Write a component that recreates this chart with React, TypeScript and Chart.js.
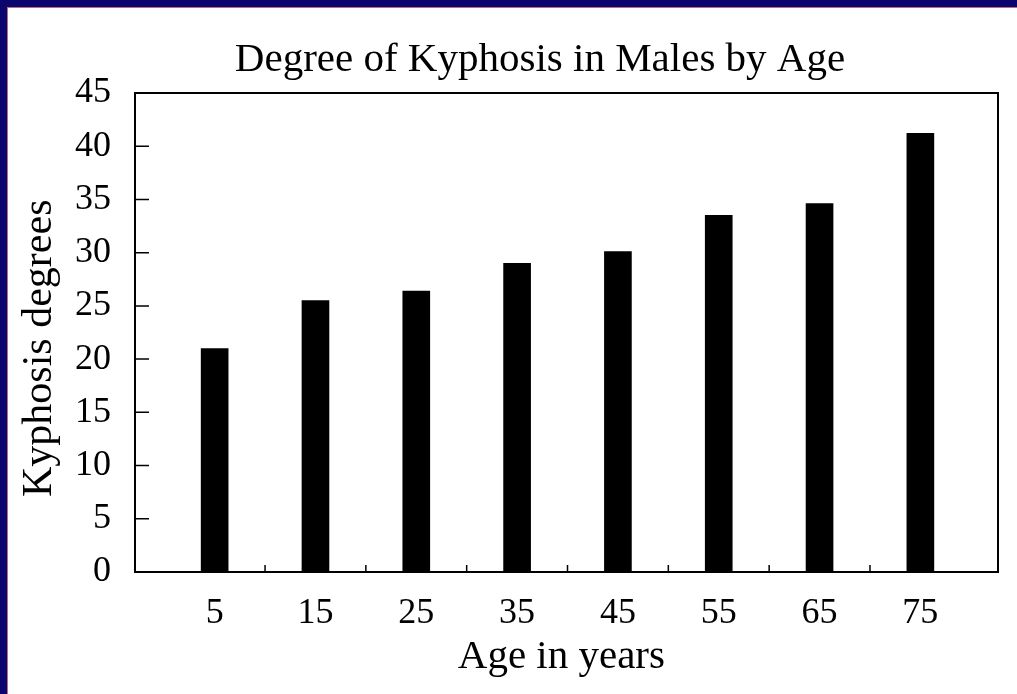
import React, { useEffect, useRef } from "react";
import { Chart, registerables } from "chart.js";

Chart.register(...registerables);

const ages = [5, 15, 25, 35, 45, 55, 65, 75];
const kyphosisDegrees = [21, 25.5, 26.4, 29, 30.1, 33.5, 34.6, 41.2];
const xTickMarks = [10, 20, 30, 40, 50, 60, 70];
const titleText = "Degree of Kyphosis in Males by Age";
const xTitle = "Age in years ";
const yTitle = "Kyphosis degrees   ";

const FONT = "'Liberation Serif', 'Times New Roman', serif";

const framePlugin = {
  id: "frame",
  afterDatasetsDraw(chart: any) {
    const { ctx, chartArea } = chart;
    const { left, right, top, bottom } = chartArea;
    const x = chart.scales.x;
    const y = chart.scales.y;
    ctx.save();
    ctx.strokeStyle = "#000";
    ctx.lineWidth = 1.5;
    ctx.beginPath();
    y.ticks.forEach((t: any) => {
      const py = y.getPixelForValue(t.value);
      ctx.moveTo(left, py);
      ctx.lineTo(left + 14, py);
    });
    xTickMarks.forEach((v) => {
      const px = x.getPixelForValue(v);
      ctx.moveTo(px, bottom);
      ctx.lineTo(px, bottom - 7);
    });
    ctx.stroke();
    ctx.lineWidth = 2;
    ctx.strokeRect(left, top, right - left, bottom - top);
    ctx.restore();
  },
};

export default function App() {
  const ref = useRef<HTMLCanvasElement>(null);
  useEffect(() => {
    if (!ref.current) return;
    document.body.style.overflow = "hidden";
    const chart = new Chart(ref.current, {
      type: "bar",
      data: {
        datasets: [
          {
            data: ages.map((a, i) => ({ x: a, y: kyphosisDegrees[i] })),
            backgroundColor: "#000",
            barThickness: 27,
          },
        ],
      },
      options: {
        responsive: false,
        animation: false,
        layout: { padding: 0 },
        plugins: {
          legend: { display: false },
          tooltip: { enabled: false },
          title: {
            display: true,
            text: titleText,
            color: "#000",
            font: { family: FONT, size: 41, weight: "normal" },
            padding: { top: 36, bottom: 7.8 },
          },
        },
        scales: {
          x: {
            type: "linear",
            offset: false,
            min: -2.9,
            max: 82.7,
            grid: { display: false, offset: false },
            border: { display: false },
            afterBuildTicks(scale: any) {
              scale.ticks = ages.map((v) => ({ value: v }));
            },
            ticks: {
              color: "#000",
              padding: 12,
              autoSkip: false,
              maxRotation: 0,
              font: { family: FONT, size: 36 },
              callback: (v: any) => String(v),
            },
            title: {
              display: true,
              text: xTitle,
              color: "#000",
              font: { family: FONT, size: 41 },
              padding: { top: 0, bottom: 12.5 },
            },
            afterFit(scale: any) {
              scale.height = 122;
            },
          },
          y: {
            min: 0,
            max: 45,
            grid: { display: false },
            border: { display: false },
            ticks: {
              stepSize: 5,
              color: "#000",
              padding: 16,
              font: { family: FONT, size: 36 },
            },
            title: {
              display: true,
              text: yTitle,
              color: "#000",
              font: { family: FONT, size: 42 },
              padding: { top: 14.8, bottom: 0 },
            },
            afterFit(scale: any) {
              scale.width = 135;
            },
          },
          yRight: {
            position: "right",
            display: true,
            grid: { display: false },
            border: { display: false },
            ticks: { display: false },
            afterFit(scale: any) {
              scale.width = 82;
            },
          },
        },
      },
      plugins: [framePlugin],
    });
    return () => chart.destroy();
  }, []);

  return (
    <div
      style={{
        position: "fixed",
        left: 0,
        top: 0,
        width: 1017,
        height: 694,
        overflow: "hidden",
        background: "#0b066e",
      }}
    >
      <div
        style={{
          position: "absolute",
          left: 7,
          top: 7,
          width: 1100,
          height: 760,
          boxSizing: "border-box",
          background: "#fff",
          borderLeft: "1.5px solid #b86a8e",
          borderTop: "1.5px solid #b86a8e",
        }}
      />
      <canvas
        ref={ref}
        width={1080}
        height={694}
        style={{ position: "absolute", left: 0, top: 0, width: 1080, height: 694 }}
      />
    </div>
  );
}
